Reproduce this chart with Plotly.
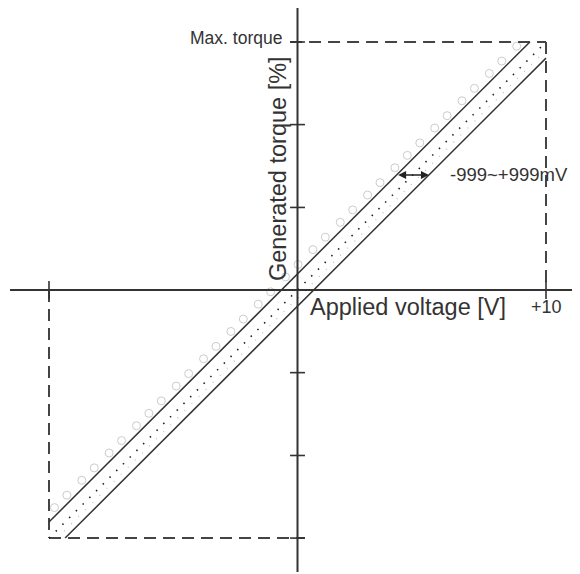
import plotly.graph_objects as go

# ---- data ----
voltage_limits = [-10, 10]          # V (applied voltage range)
torque_limits = [-100, 100]         # % (generated torque range)
band_offset_v = 0.65                # half-width of the drawn band (V)
torque_per_volt = 10                # % per V
y_tick_values = [-100, -66.7, -33.3, 33.3, 66.7, 100]
x_tick_values = [-10, 10]
x_tick_labels = ["", "+10"]
circle_voltages = [-9.6, -9.1, -8.5, -8.0, -7.4, -6.9, -6.3, -5.8, -5.3, -4.7,
                   -4.2, -3.6, -3.1, -2.5, -2.0, -1.4, -0.9, -0.3, 0.2, 0.8,
                   1.3, 1.9, 2.4, 3.0, 3.5, 4.1, 4.6, 5.1, 5.7, 6.2, 6.8,
                   7.3, 7.9, 8.4, 9.0]
arrow_torque = 46.4
band_label = "-999~+999mV"
x_title = "Applied voltage [V]"
y_title = "Generated torque [%]"
max_label = "Max. torque"

# ---- scales (page has an 8px body margin) ----
X_RANGE = [-11.65, 11.69]
Y_RANGE = [-117.7, 113.7]

INK = "#333333"
FONT = "Liberation Sans, Arial, sans-serif"

vmin, vmax = voltage_limits
tmin, tmax = torque_limits
off = band_offset_v

fig = go.Figure()

def seg(xs, ys, width=2, dash="solid", color=INK):
    fig.add_trace(go.Scatter(x=xs, y=ys, mode="lines",
                             line=dict(color=color, width=width, dash=dash),
                             hoverinfo="skip", showlegend=False))

# faint circles above upper band line
cv = list(circle_voltages)
fig.add_trace(go.Scatter(
    x=[v - 0.18 for v in cv], y=[(v + off) * torque_per_volt + 1.8 for v in cv],
    mode="markers",
    marker=dict(symbol="circle-open", size=8, color="#cccccc", line=dict(width=1)),
    hoverinfo="skip", showlegend=False))

# faint grey dots inside band
seg([vmin + off * 0.5, vmax], [tmin, tmax - off * 0.5 * torque_per_volt],
    width=1.2, dash="1px,9px", color="#bbbbbb")

# axes
seg([-11.57, X_RANGE[1]], [0, 0], width=2)
seg([0, 0], [113.7, -113.7], width=2)

# dashed limit box
dash = "12px,7px"
seg([-0.3, vmax], [tmax, tmax], width=2, dash=dash, color="#444")
seg([vmax, vmax], [tmax, 0], width=2, dash=dash, color="#444")
seg([vmin, 0.3], [tmin, tmin], width=2, dash=dash, color="#444")
seg([vmin, vmin], [0, tmin], width=2, dash=dash, color="#444")

# ticks
for yv in y_tick_values:
    seg([-0.3, 0.3], [yv, yv], width=1.6)
for xv in x_tick_values:
    seg([xv, xv], [-3.6, 3.6], width=1.6)

# band lines
seg([vmin, tmax / torque_per_volt - off], [(vmin + off) * torque_per_volt, tmax], width=1.5)
seg([tmin / torque_per_volt + off, vmax], [tmin, (vmax - off) * torque_per_volt], width=1.5)
# center dotted line
seg([vmin, vmax], [tmin, tmax], width=1.6, dash="1.5px,8px", color="#222")

annotations = []
# double arrow
v_left = arrow_torque / torque_per_volt - off
v_right = arrow_torque / torque_per_volt + off
annotations.append(dict(x=v_right, y=arrow_torque, ax=v_left, ay=arrow_torque,
                        xref="x", yref="y", axref="x", ayref="y", text="",
                        showarrow=True, arrowhead=2, startarrowhead=2,
                        arrowside="end+start", arrowsize=1, startarrowsize=1,
                        arrowwidth=1.6, arrowcolor="#222"))
annotations.append(dict(x=6.06, y=arrow_torque, xref="x", yref="y", text=band_label,
                        showarrow=False, xanchor="left", yanchor="middle",
                        font=dict(family=FONT, size=18.5, color=INK)))
annotations.append(dict(x=-0.54, y=101.6, xref="x", yref="y", text=max_label,
                        showarrow=False, xanchor="right", yanchor="middle",
                        font=dict(family=FONT, size=17.5, color=INK)))
annotations.append(dict(x=x_tick_values[1], y=-6.9, xref="x", yref="y", text=x_tick_labels[1],
                        showarrow=False, xanchor="center", yanchor="middle",
                        font=dict(family=FONT, size=18, color=INK)))
annotations.append(dict(x=0.42, y=-6.9, xref="x", yref="y", text=x_title,
                        showarrow=False, xanchor="left", yanchor="middle",
                        font=dict(family=FONT, size=23.5, color=INK)))
annotations.append(dict(x=-0.78, y=48.8, xref="x", yref="y", text=y_title,
                        showarrow=False, xanchor="center", yanchor="middle", textangle=-90,
                        font=dict(family=FONT, size=23.5, color=INK)))

fig.update_layout(
    width=580, height=574,
    margin=dict(l=0, r=0, t=0, b=0),
    paper_bgcolor="white", plot_bgcolor="white",
    xaxis=dict(range=X_RANGE, visible=False, fixedrange=True),
    yaxis=dict(range=Y_RANGE, visible=False, fixedrange=True),
    annotations=annotations,
    showlegend=False,
)

fig.write_html("out.html")
